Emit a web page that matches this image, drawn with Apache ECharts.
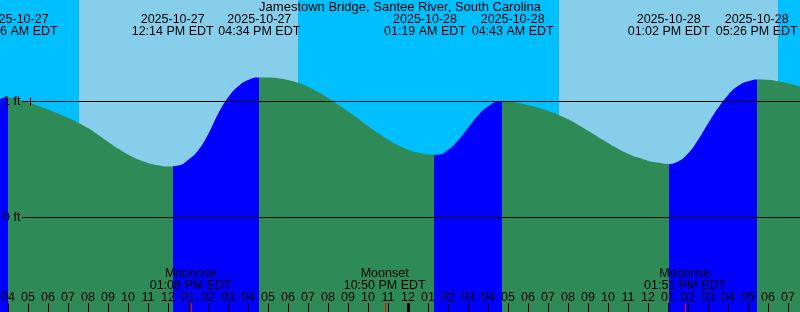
<!DOCTYPE html>
<html><head><meta charset="utf-8">
<script src="https://cdn.jsdelivr.net/npm/echarts@6/dist/echarts.min.js"></script>
<style>html,body{margin:0;padding:0;background:#00BFFF;overflow:hidden}#c{width:800px;height:312px}</style>
</head><body><div id="c"></div><script>
const chartTitle = 'Jamestown Bridge, Santee River, South Carolina';
const axisStart = '2025-10-27 03:36';
const axisEnd = '2025-10-28 19:36';

// tide level every 30 minutes, starting 2025-10-27 03:30 (feet)
const tideSampleStart = '2025-10-27 03:30';
const tideSampleStepMinutes = 30;
const tideHeights = [
  1.013, 1.034, 1.017, 0.992, 0.962, 0.930, 0.896, 0.859, 0.818, 0.769, 0.711, 0.651, 0.592, 0.541, 0.499, 0.468, 0.449, 0.437,
  0.445, 0.494, 0.575, 0.713, 0.890, 1.033, 1.128, 1.184, 1.207,
  1.206, 1.200, 1.184, 1.160, 1.126, 1.080, 1.029, 0.972, 0.912, 0.851, 0.787, 0.726, 0.670, 0.620, 0.583, 0.558, 0.541,
  0.539, 0.579, 0.661, 0.769, 0.877, 0.955, 0.996,
  0.998, 0.987, 0.968, 0.944, 0.916, 0.884, 0.845, 0.798, 0.746, 0.693, 0.641, 0.591, 0.548, 0.514, 0.488, 0.471, 0.459,
  0.480, 0.549, 0.666, 0.808, 0.942, 1.054, 1.132, 1.173,
  1.190, 1.186, 1.173, 1.156, 1.132, 1.106
];

// turning points of the tide (first one is a high, rising before it)
const extremeTimes = ['2025-10-27 04:00','2025-10-27 12:14','2025-10-27 16:34','2025-10-28 01:19','2025-10-28 04:43','2025-10-28 13:02','2025-10-28 17:26'];

// labels across the top (anchors spread apart where the texts would collide)
const eventLabelTimes = ['2025-10-27 04:26','2025-10-27 12:14','2025-10-27 16:34','2025-10-28 00:51','2025-10-28 05:14','2025-10-28 13:02','2025-10-28 17:26'];
const eventDates = ['2025-10-27','2025-10-27','2025-10-27','2025-10-28','2025-10-28','2025-10-28','2025-10-28'];
const eventClock = ['04:26 AM EDT','12:14 PM EDT','04:34 PM EDT','01:19 AM EDT','04:43 AM EDT','01:02 PM EDT','05:26 PM EDT'];

// daylight
const dayStarts = ['2025-10-27 07:33','2025-10-28 07:34'];
const dayEnds = ['2025-10-27 18:30','2025-10-28 18:29'];

// moon events
const moonTimes = ['2025-10-27 13:08','2025-10-27 22:50','2025-10-28 13:51'];
const moonNames = ['Moonrise','Moonset','Moonrise'];
const moonClock = ['01:08 PM EDT','10:50 PM EDT','01:51 PM EDT'];

// hour ticks
const hourTickStart = '2025-10-27 04:00';
const hourLabels = ['04','05','06','07','08','09','10','11','12','01','02','03','04','05','06','07','08','09','10','11',
                    '12','01','02','03','04','05','06','07','08','09','10','11','12','01','02','03','04','05','06','07'];
const midnightTimes = ['2025-10-28 00:00'];

// depth reference lines
const depthTicks = [0, 1];
const depthLabels = ['0 ft', '1 ft'];
const depthMarkTimes = ['2025-10-27 05:06'];
const depthMarkLevel = 1;

const yMin = -0.82, yMax = 1.876;

function toMs(s) {
  const [d, t] = s.split(' ');
  const [Y, M, D] = d.split('-').map(Number);
  const [h, m] = t.split(':').map(Number);
  return new Date(Y, M - 1, D, h, m).getTime();
}
const HOUR = 3600000;
const FONT = '12.5px "Liberation Sans", Arial, sans-serif';
const GREEN = '#2E8B57', BLUE = '#0000FF', DAY = '#87CEEB', NIGHT = '#00BFFF';

const sampleStartMs = toMs(tideSampleStart);
const tideData = tideHeights.map((v, i) => [sampleStartMs + i * tideSampleStepMinutes * 60000, v]);
const bounds = extremeTimes.map(toMs);
const pieces = [{ lt: bounds[0], color: BLUE }];
for (let i = 0; i < bounds.length - 1; i++) {
  pieces.push({ gte: bounds[i], lt: bounds[i + 1], color: i % 2 === 0 ? GREEN : BLUE });
}
pieces.push({ gte: bounds[bounds.length - 1], color: bounds.length % 2 === 1 ? GREEN : BLUE });

const tickStartMs = toMs(hourTickStart);
const hourData = hourLabels.map((l, i) => [tickStartMs + i * HOUR, yMin]);
const midnightMs = midnightTimes.map(toMs);

function txt(x, y, text, align) {
  return { type: 'text', x: x, y: y, style: { text: text, fill: '#000', font: FONT, align: align || 'center', verticalAlign: 'middle' } };
}
function vline(x, y1, y2, w, color) {
  const xx = w % 2 === 1 ? Math.round(x) + 0.5 : Math.round(x);
  return { type: 'line', shape: { x1: xx, y1: y1, x2: xx, y2: y2 }, style: { stroke: color, lineWidth: w } };
}

const chart = echarts.init(document.getElementById('c'), null, { renderer: 'canvas' });
chart.setOption({
  backgroundColor: NIGHT,
  animation: false,
  title: { text: chartTitle, left: 'center', top: 1, padding: 0,
    textStyle: { fontSize: 13, fontWeight: 'normal', color: '#000', fontFamily: '"Liberation Sans", Arial, sans-serif' } },
  grid: { left: 0, right: 0, top: 0, bottom: 0, containLabel: false, outerBoundsMode: 'none' },
  xAxis: { type: 'time', min: toMs(axisStart), max: toMs(axisEnd), show: false },
  yAxis: { type: 'value', min: yMin, max: yMax, show: false },
  visualMap: { show: false, type: 'piecewise', dimension: 0, seriesIndex: 1, pieces: pieces },
  series: [
    { // daylight bands
      type: 'custom', z: 1, silent: true,
      data: dayStarts.map((s, i) => [toMs(s), toMs(dayEnds[i]), yMax]),
      encode: { x: [0, 1], y: 2 },
      renderItem: (params, api) => {
        const a = api.coord([api.value(0), yMax]);
        const b = api.coord([api.value(1), yMin]);
        return { type: 'rect', shape: { x: Math.round(a[0]), y: a[1], width: Math.round(b[0]) - Math.round(a[0]), height: b[1] - a[1] }, style: { fill: DAY } };
      }
    },
    { // tide
      type: 'line', z: 2, silent: true, data: tideData, smooth: 0.5, symbol: 'none',
      lineStyle: { width: 0 },
      areaStyle: { opacity: 1, origin: 'start' }
    },
    { // depth reference lines
      type: 'custom', z: 3, silent: true,
      data: depthTicks.map(v => [toMs(axisStart), v]),
      encode: { x: 0, y: 1 },
      renderItem: (params, api) => {
        const i = params.dataIndex;
        const p = api.coord([api.value(0), api.value(1)]);
        const yy = Math.round(p[1]) + 0.5;
        const right = params.coordSys.x + params.coordSys.width;
        return { type: 'group', children: [
          { type: 'line', shape: { x1: p[0] + 22, y1: yy, x2: right, y2: yy }, style: { stroke: '#000', lineWidth: 1 } },
          txt(p[0] + 3, p[1] + 0.5, depthLabels[i], 'left')
        ] };
      }
    },
    { // small mark on the 1 ft line
      type: 'custom', z: 3, silent: true,
      data: depthMarkTimes.map(t => [toMs(t), depthMarkLevel]),
      encode: { x: 0, y: 1 },
      renderItem: (params, api) => {
        const p = api.coord([api.value(0), api.value(1)]);
        return vline(p[0], p[1] - 4, p[1] + 4, 1, '#000');
      }
    },
    { // hour ticks and labels
      type: 'custom', z: 4, silent: true,
      data: hourData,
      encode: { x: 0, y: 1 },
      renderItem: (params, api) => {
        const i = params.dataIndex;
        const t = api.value(0);
        const p = api.coord([t, yMin]);
        const thick = midnightMs.indexOf(t) >= 0;
        return { type: 'group', children: [
          vline(p[0], p[1] - 9, p[1], thick ? 3 : 1, '#000'),
          txt(p[0], p[1] - 14.5, hourLabels[i])
        ] };
      }
    },
    { // tide event labels
      type: 'custom', z: 5, silent: true,
      data: eventLabelTimes.map(t => [toMs(t), yMax]),
      encode: { x: 0, y: 1 },
      renderItem: (params, api) => {
        const i = params.dataIndex;
        const p = api.coord([api.value(0), yMax]);
        return { type: 'group', children: [
          txt(p[0], p[1] + 19.5, eventDates[i]),
          txt(p[0], p[1] + 31.5, eventClock[i])
        ] };
      }
    },
    { // moon events
      type: 'custom', z: 6, silent: true,
      data: moonTimes.map(t => [toMs(t), yMin]),
      encode: { x: 0, y: 1 },
      renderItem: (params, api) => {
        const i = params.dataIndex;
        const p = api.coord([api.value(0), yMin]);
        return { type: 'group', children: [
          vline(p[0], p[1] - 9, p[1], 1, '#FF0000'),
          txt(p[0], p[1] - 38, moonNames[i]),
          txt(p[0], p[1] - 26.5, moonClock[i])
        ] };
      }
    }
  ]
});
</script></body></html>
